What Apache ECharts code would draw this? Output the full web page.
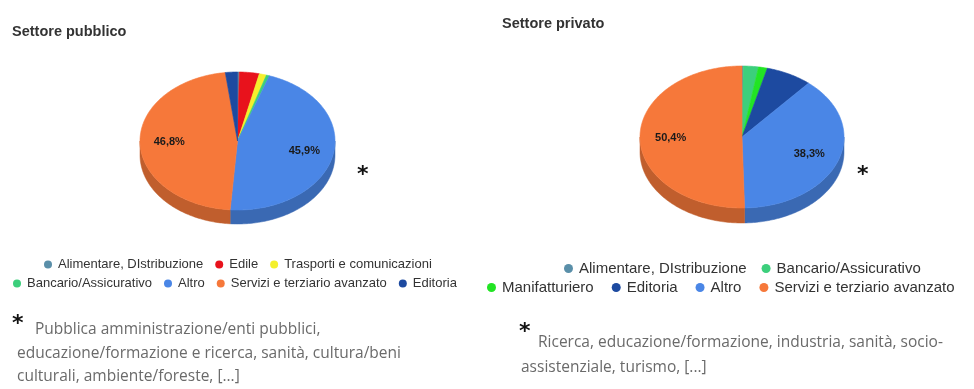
<!DOCTYPE html>
<html>
<head>
<meta charset="utf-8">
<script src="https://cdn.jsdelivr.net/npm/echarts@6/dist/echarts.min.js"></script>
<style>
  html, body { margin: 0; padding: 0; background: #ffffff; }
  #chart { width: 974px; height: 389px; }
</style>
</head>
<body>
<div id="chart"></div>
<script>
// Sector shares (%) in clockwise order starting from 12 o'clock
const publicCategories = ['Alimentare, DIstribuzione', 'Edile', 'Trasporti e comunicazioni', 'Bancario/Assicurativo', 'Altro', 'Servizi e terziario avanzato', 'Editoria'];
const publicValues = [0.3, 3.3, 1.2, 0.5, 45.9, 46.8, 2.0];

const privateCategories = ['Alimentare, DIstribuzione', 'Bancario/Assicurativo', 'Manifatturiero', 'Editoria', 'Altro', 'Servizi e terziario avanzato'];
const privateValues = [0.2, 2.4, 1.4, 7.3, 38.3, 50.4];

const titles = ['Settore pubblico', 'Settore privato'];
const publicNote = ['Pubblica amministrazione/enti pubblici,', 'educazione/formazione e ricerca, sanità, cultura/beni', 'culturali, ambiente/foreste, [...]'];
const privateNote = ['Ricerca, educazione/formazione, industria, sanità, socio-', 'assistenziale, turismo, [...]'];

const sectorColors = {
  'Alimentare, DIstribuzione': '#5a8fa9',
  'Edile': '#e8121c',
  'Trasporti e comunicazioni': '#f4f02c',
  'Bancario/Assicurativo': '#3ccf7c',
  'Manifatturiero': '#22e424',
  'Altro': '#4a86e6',
  'Servizi e terziario avanzato': '#f6783a',
  'Editoria': '#1d4aa0'
};

function darken(hex, f) {
  const n = parseInt(hex.slice(1), 16);
  const r = Math.round(((n >> 16) & 255) * f);
  const g = Math.round(((n >> 8) & 255) * f);
  const b = Math.round((n & 255) * f);
  return 'rgb(' + r + ',' + g + ',' + b + ')';
}

// Tilted pie: each slice is a custom series so the legend can list it by name
function tiltedPie(categories, values, geo) {
  const total = values.reduce((a, b) => a + b, 0);
  const starts = [];
  let acc = 0;
  values.forEach(v => { starts.push(acc); acc += v; });

  const rim = (t, dy) => [geo.cx + geo.rx * Math.sin(t), geo.cy - geo.ry * Math.cos(t) + (dy || 0)];
  const arc = (a, b, dy) => {
    const pts = [];
    const n = Math.max(2, Math.ceil((b - a) / (Math.PI / 180)));
    for (let k = 0; k <= n; k++) pts.push(rim(a + (b - a) * k / n, dy));
    return pts;
  };

  return categories.map((name, i) => ({
    type: 'custom',
    name: name,
    coordinateSystem: 'none',
    silent: true,
    itemStyle: { color: sectorColors[name] },
    data: [[values[i], starts[i]]],
    renderItem: function (params, api) {
      const value = api.value(0);
      const a = api.value(1) / total * Math.PI * 2;
      const b = a + value / total * Math.PI * 2;
      const color = sectorColors[name];
      const children = [];

      // Visible front wall (lower half, between 3 and 9 o'clock)
      const sa = Math.max(a, Math.PI / 2);
      const sb = Math.min(b, Math.PI * 1.5);
      if (sa < sb) {
        const pts = arc(sa, sb, 0).concat(arc(sa, sb, geo.depth).reverse());
        children.push({
          type: 'polygon',
          z2: 1,
          shape: { points: pts },
          style: { fill: darken(color, 0.78), stroke: darken(color, 0.78), lineWidth: 0.5 }
        });
      }

      // Top face
      const top = [[geo.cx, geo.cy]].concat(arc(a, b, 0));
      children.push({
        type: 'polygon',
        z2: 5,
        shape: { points: top },
        style: { fill: color, stroke: color, lineWidth: 0.6 }
      });

      // Value label on large slices
      if (value >= 10) {
        const m = (a + b) / 2;
        children.push({
          type: 'text',
          z2: 10,
          style: {
            x: geo.cx + geo.rx * geo.labelR * Math.sin(m),
            y: geo.cy - geo.ry * geo.labelR * Math.cos(m),
            text: value.toFixed(1).replace('.', ',') + '%',
            align: 'center',
            verticalAlign: 'middle',
            font: 'bold 11px "Liberation Sans", Arial, sans-serif',
            fill: '#1a1a1a'
          }
        });
      }
      return { type: 'group', children: children };
    }
  }));
}

const legendBase = {
  icon: 'circle',
  selectedMode: false,
  orient: 'horizontal',
  padding: 0
};
const legendLeftText = { fontFamily: '"Liberation Sans", Arial, sans-serif', fontSize: 13, color: '#333' };
const legendRightText = { fontFamily: '"Liberation Sans", Arial, sans-serif', fontSize: 15, color: '#333' };
const titleText = { fontFamily: '"Liberation Sans", Arial, sans-serif', fontSize: 14.5, fontWeight: 'bold', color: '#333' };

const noteFont = '15.5px "Open Sans", sans-serif';
const noteColor = '#6a6a6a';
const starFont = 'bold 22px "DejaVu Sans", sans-serif';

const chart = echarts.init(document.getElementById('chart'), null, { renderer: 'canvas' });
chart.setOption({
  animation: false,
  backgroundColor: '#ffffff',
  title: [
    { text: titles[0], left: 7, top: 19, textStyle: titleText },
    { text: titles[1], left: 497, top: 11, textStyle: titleText }
  ],
  legend: [
    Object.assign({}, legendBase, { data: publicCategories.slice(0, 3), left: 44, top: 258, itemWidth: 10, itemHeight: 8, itemGap: 12, textStyle: legendLeftText }),
    Object.assign({}, legendBase, { data: publicCategories.slice(3), left: 13, top: 277, itemWidth: 10, itemHeight: 8, itemGap: 12, textStyle: legendLeftText }),
    Object.assign({}, legendBase, { data: privateCategories.slice(0, 2), left: 564, top: 261, itemWidth: 11, itemHeight: 9, itemGap: 15, textStyle: legendRightText }),
    Object.assign({}, legendBase, { data: privateCategories.slice(2), left: 487, top: 280, itemWidth: 11, itemHeight: 9, itemGap: 18, textStyle: legendRightText })
  ],
  graphic: [
    { type: 'text', left: 357, top: 164, style: { text: '*', font: starFont, fill: '#111' } },
    { type: 'text', left: 857, top: 164, style: { text: '*', font: starFont, fill: '#111' } },
    { type: 'text', left: 12, top: 313, style: { text: '*', font: starFont, fill: '#111' } },
    { type: 'text', left: 35, top: 322, style: { text: publicNote[0], font: noteFont, fill: noteColor } },
    { type: 'text', left: 17, top: 346, style: { text: publicNote[1], font: noteFont, fill: noteColor } },
    { type: 'text', left: 17, top: 369, style: { text: publicNote[2], font: noteFont, fill: noteColor } },
    { type: 'text', left: 519, top: 321, style: { text: '*', font: starFont, fill: '#111' } },
    { type: 'text', left: 538, top: 335, style: { text: privateNote[0], font: noteFont, fill: noteColor } },
    { type: 'text', left: 521, top: 360, style: { text: privateNote[1], font: noteFont, fill: noteColor } }
  ],
  series: tiltedPie(publicCategories, publicValues, { cx: 237.5, cy: 141, rx: 97.5, ry: 69, depth: 14, labelR: 0.7 })
    .concat(tiltedPie(privateCategories, privateValues, { cx: 742, cy: 137, rx: 102, ry: 71, depth: 15, labelR: 0.7 }))
});
</script>
</body>
</html>
